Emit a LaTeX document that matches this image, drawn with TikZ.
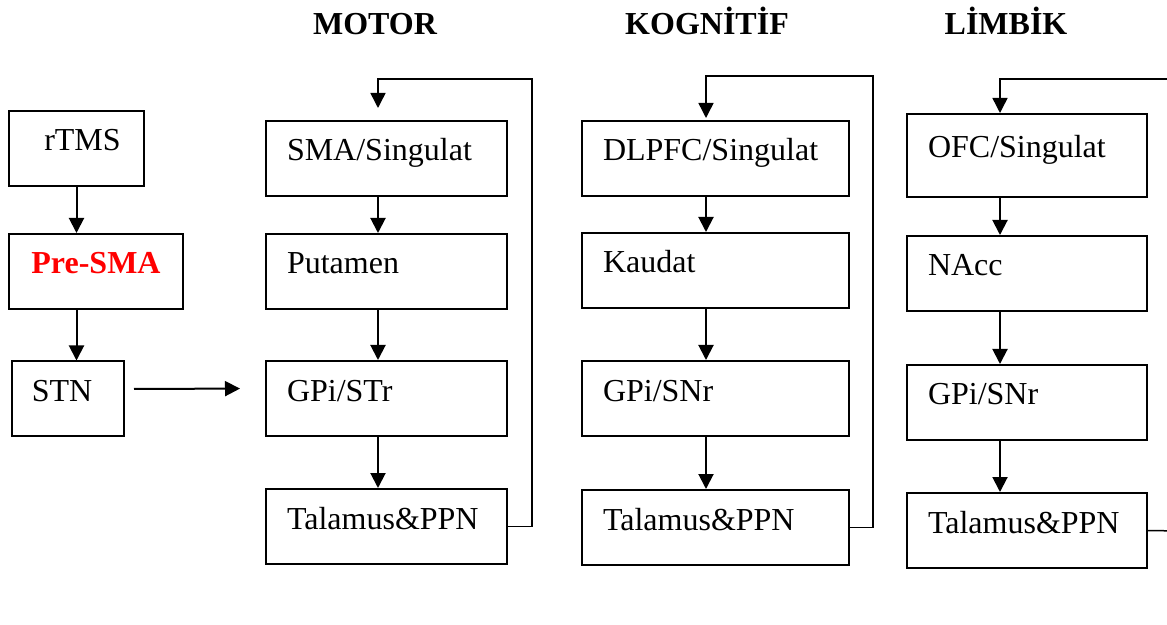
\documentclass[tikz,border=0pt]{standalone}
\usepackage{fontspec}
\setmainfont{Liberation Serif}
\usepackage{xcolor}
\usetikzlibrary{arrows.meta, positioning}

\begin{document}
\begin{tikzpicture}[
    x=0.5pt, y=-0.5pt,
    area/.style={rectangle, draw, line width=1pt, text width=#1, align=left, inner xsep=10.5pt, inner ysep=0pt, text height=20pt, text depth=17.5pt, font=\fontsize{16}{19}\selectfont},
    area/.default={99.5pt},
    side/.style={rectangle, draw, line width=1pt, minimum width=#1, inner xsep=0pt, inner ysep=0pt, text height=20pt, text depth=17.5pt, font=\fontsize{16}{19}\selectfont},
    title/.style={font=\fontsize{16}{19}\selectfont\bfseries, anchor=base},
    flow/.style={-{Triangle[length=7.5pt, width=7.5pt]}, line width=1pt},
    fback/.style={-{Triangle[length=7.5pt, width=7.5pt]}, line width=0.75pt},
]
    \useasboundingbox (0,0) rectangle (1167,625);

    % Titles
    \node[title] (tMot) at (375,35) {MOTOR};
    \node[title] (tKog) at (707,35) {KOGNİTİF};
    \node[title] (tLim) at (1006,35) {LİMBİK};

    % Left column
    \node[side=67.5pt] (rtms) at (76.5,148.5) {\hspace*{6pt}rTMS};
    \node[side=87pt, text=red, font=\fontsize{16}{19}\selectfont\bfseries] (presma) at (96,271.5) {Pre-SMA};
    \node[side=56pt] (stn) at (68,399) {STN\hspace*{6pt}};

    % Motor loop
    \node[area] (smaM) at (386.5,158.5) {SMA/Singulat};
    \node[area, below=18pt of smaM] (putM) {Putamen};
    \node[area, below=25pt of putM] (gpiM) {GPi/STr};
    \node[area, below=25.5pt of gpiM] (talM) {Talamus\&PPN};

    % Kognitif loop
    \node[area=112.5pt] (dlpfc) at (715.5,158.5) {DLPFC/Singulat};
    \node[area=112.5pt, below=17.5pt of dlpfc] (kau) {Kaudat};
    \node[area=112.5pt, below=25.5pt of kau] (gpiK) {GPi/SNr};
    \node[area=112.5pt, below=26pt of gpiK] (talK) {Talamus\&PPN};

    % Limbik loop
    \node[area=99pt, text height=22pt, text depth=19.5pt] (ofc) at (1027,155.5) {OFC/Singulat};
    \node[area=99pt, below=18.5pt of ofc] (nacc) {NAcc};
    \node[area=99pt, below=26pt of nacc] (gpiL) {GPi/SNr};
    \node[area=99pt, below=25.5pt of gpiL] (talL) {Talamus\&PPN};

    % Arrow axes and loop corners
    \coordinate (axM) at (378,0);
    \coordinate (axK) at (706,0);
    \coordinate (axL) at (1000,0);
    \coordinate (cornM) at (532,79);
    \coordinate (cornK) at (873,76);
    \coordinate (outL1) at (1180,531);
    \coordinate (outL2) at (1180,79);

    % Left arrows
    \draw[flow] (rtms.south) -- (rtms.south |- presma.north);
    \draw[flow] (presma.south -| rtms.south) -- (stn.north -| rtms.south);
    \draw[flow, shorten <=4.5pt, shorten >=12.5pt] ([yshift=5pt]stn.east) -- ([yshift=5pt]gpiM.west);

    % Column arrows
    \draw[flow] (smaM.south -| axM) -- (putM.north -| axM);
    \draw[flow] (putM.south -| axM) -- (gpiM.north -| axM);
    \draw[flow] (gpiM.south -| axM) -- (talM.north -| axM);
    \draw[flow] (dlpfc.south -| axK) -- (kau.north -| axK);
    \draw[flow] (kau.south -| axK) -- (gpiK.north -| axK);
    \draw[flow] (gpiK.south -| axK) -- (talK.north -| axK);
    \draw[flow] (ofc.south -| axL) -- (nacc.north -| axL);
    \draw[flow] (nacc.south -| axL) -- (gpiL.north -| axL);
    \draw[flow] (gpiL.south -| axL) -- (talL.north -| axL);

    % Feedback lines
    \draw[fback, shorten >=6pt] (talM.east) -| (cornM) -| (smaM.north -| axM);
    \draw[fback, shorten >=1pt] (talK.east) -| (cornK) -| (dlpfc.north -| axK);
    \draw[line width=0.75pt] (talL.east) -- (outL1);
    \draw[fback] (outL2) -| (ofc.north -| axL);
\end{tikzpicture}
\end{document}
